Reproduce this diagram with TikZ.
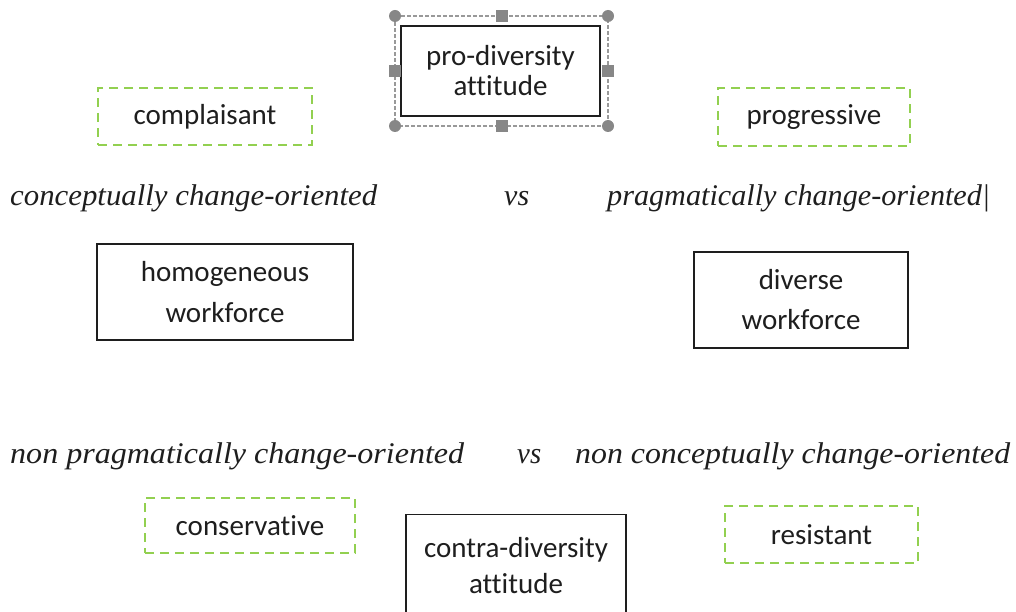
\documentclass[tikz,border=0pt]{standalone}
\usepackage{fontspec}
\usepackage{graphicx}
\setmainfont{Liberation Serif}
\newfontfamily\boxfont[Ligatures={NoCommon,NoRare}]{Carlito}
\definecolor{dgreen}{RGB}{146,208,80}
\definecolor{hgray}{RGB}{135,135,135}
\definecolor{ink}{RGB}{30,30,30}
\newcommand\itw[2]{\resizebox{#1}{\height}{\itshape #2}}
\tikzset{
  boxtext/.style={font=\boxfont\fontsize{29}{#1}\selectfont, align=center, text=ink},
  solidbox/.style 2 args={draw=ink, line width=1.4pt, minimum width=#1, minimum height=#2, inner sep=0pt},
  dashbox/.style 2 args={draw=dgreen, line width=2.2pt, dash pattern=on 9pt off 6pt, minimum width=#1, minimum height=#2, inner sep=0pt, boxtext=30pt},
  itx/.style={font=\fontsize{30}{32}\selectfont, text=ink, inner sep=0pt, anchor=base west},
  selframe/.style={draw=hgray!85, line width=1.2pt, dash pattern=on 4pt off 2pt},
  roundhandle/.style={circle, fill=hgray, minimum size=12pt, inner sep=0pt},
  squarehandle/.style={rectangle, fill=hgray, minimum size=12pt, inner sep=0pt}
}
\begin{document}
\begin{tikzpicture}[x=1pt,y=-1pt]
\useasboundingbox (0,0) rectangle (1016,612);
\clip (0,0) rectangle (1016,612);
\fill[white] (0,0) rectangle (1016,612);

% selection frame around pro-diversity box
\coordinate (s1) at (395,16);
\coordinate (s2) at (608,16);
\coordinate (s3) at (608,126);
\coordinate (s4) at (395,126);
\draw[selframe] (s1) -- (s2) -- (s3) -- (s4) -- cycle;

% boxes
\node[solidbox={199pt}{90pt}, line width=1.8pt, boxtext=30pt] (pro) at (500.5,71) {pro-diversity\\attitude};
\node[solidbox={256pt}{96pt}, boxtext=41pt] (homo) at (225,292) {homogeneous\\workforce};
\node[solidbox={214pt}{96pt}, boxtext=40pt] (div) at (801,300) {diverse\\workforce};
\node[solidbox={220pt}{102pt}, boxtext=36pt, anchor=north] (contra) at (516,514) {contra-diversity\\attitude};

\node[dashbox={214pt}{57pt}] (compl) at (205,116.5) {complaisant};
\node[dashbox={192pt}{58pt}] (progr) at (814,117) {progressive};
\node[dashbox={210pt}{55pt}] (cons) at (250,525.5) {conservative};
\node[dashbox={193pt}{57pt}] (resi) at (821.5,534.5) {resistant};

% handles
\node[roundhandle] (h1) at (s1) {};
\node[roundhandle] (h2) at (s2) {};
\node[roundhandle] (h3) at (s3) {};
\node[roundhandle] (h4) at (s4) {};
\node[squarehandle] (h5) at (501.5,16) {};
\node[squarehandle] (h6) at (501.5,126) {};
\node[squarehandle] (h7) at (395,71) {};
\node[squarehandle] (h8) at (608,71) {};

% italic labels
\node[itx] (t1) at (10,206) {\itw{367pt}{conceptually change-oriented}};
\node[itx] (t2) at (504,206) {\itw{25pt}{vs}};
\node[itx] (t3) at (607,206) {\itw{383pt}{pragmatically change-oriented|}};
\node[itx] (t4) at (10,463) {\itw{454pt}{non pragmatically change-oriented}};
\node[itx] (t5) at (517,463) {\itw{24pt}{vs}};
\node[itx] (t6) at (575,463) {\itw{435pt}{non conceptually change-oriented}};
\end{tikzpicture}
\end{document}
